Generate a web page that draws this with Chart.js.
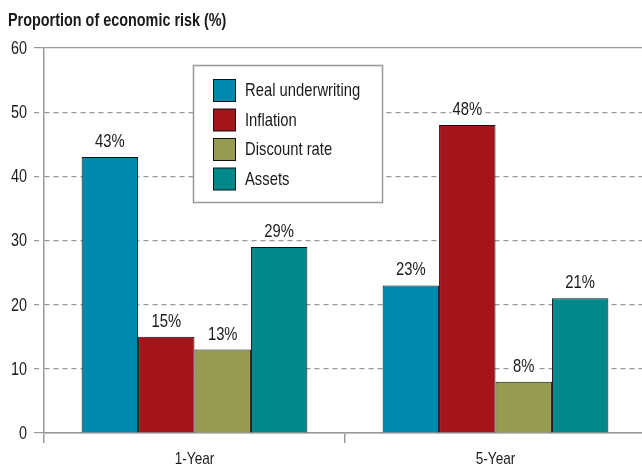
<!DOCTYPE html>
<html>
<head>
<meta charset="utf-8">
<script src="https://cdn.jsdelivr.net/npm/chart.js@4.4.0/dist/chart.umd.min.js"></script>
<style>
html,body{margin:0;padding:0;background:#fff;overflow:hidden;}
#wrap{position:relative;width:646px;height:468px;}
</style>
</head>
<body>
<div id="wrap"><canvas id="c" width="646" height="468"></canvas></div>
<script>
const categories = ['1-Year', '5-Year'];
const seriesNames = ['Real underwriting', 'Inflation', 'Discount rate', 'Assets'];
const realUnderwriting = [43, 23];
const inflation = [15, 48];
const discountRate = [13, 8];
const assets = [29, 21];
const yTicks = [0, 10, 20, 30, 40, 50, 60];
const titleText = 'Proportion of economic risk (%)';

const colors = ['#0088AF', '#A3151B', '#979B51', '#00888A'];
const FONT = "'Liberation Sans', Arial, sans-serif";
const SX = 0.8;

const values = [realUnderwriting, inflation, discountRate, assets];

function narrowText(ctx, txt, x, y, size, bold, align, baseline, color) {
  ctx.save();
  ctx.font = (bold ? 'bold ' : '') + size + 'px ' + FONT;
  ctx.textAlign = align;
  ctx.textBaseline = baseline;
  ctx.fillStyle = color || '#1a1a1a';
  ctx.translate(x, y);
  ctx.scale(SX, 1);
  ctx.fillText(txt, 0, 0);
  ctx.restore();
}
function narrowWidth(ctx, txt, size, bold) {
  ctx.save();
  ctx.font = (bold ? 'bold ' : '') + size + 'px ' + FONT;
  const w = ctx.measureText(txt).width * SX;
  ctx.restore();
  return w;
}

const overlay = {
  id: 'overlay',
  afterDatasetsDraw(chart) {
    const ctx = chart.ctx;
    chart.data.datasets.forEach((ds, i) => {
      const meta = chart.getDatasetMeta(i);
      meta.data.forEach((bar, j) => {
        const txt = ds.data[j] + '%';
        const w = narrowWidth(ctx, txt, 18.5, false);
        const by = bar.y - 10;
        ctx.fillStyle = '#fff';
        ctx.fillRect(bar.x - w / 2 - 1, by - 14, w + 2, 16);
        narrowText(ctx, txt, bar.x, by, 18.5, false, 'center', 'alphabetic');
      });
    });
    const bx = 193, byy = 65, bw = 189, bh = 137;
    ctx.save();
    ctx.fillStyle = '#fff';
    ctx.fillRect(bx, byy, bw, bh);
    ctx.strokeStyle = '#999';
    ctx.lineWidth = 1.5;
    ctx.strokeRect(bx + 0.5, byy + 0.5, bw, bh);
    chart.data.datasets.forEach((ds, i) => {
      const y = 79 + i * 29.5;
      ctx.fillStyle = ds.backgroundColor;
      ctx.fillRect(213.5, y + 0.5, 22, 22);
      ctx.strokeStyle = '#111';
      ctx.lineWidth = 1;
      ctx.strokeRect(213.5, y + 0.5, 22, 22);
      narrowText(ctx, ds.label, 245, y + 12, 18.5, false, 'left', 'middle');
    });
    ctx.restore();
  },
  afterDraw(chart) {
    const ctx = chart.ctx;
    narrowText(ctx, titleText, 8, 26, 18, true, 'left', 'alphabetic');
    const ys = chart.scales.y;
    ys.ticks.forEach((t, i) => {
      narrowText(ctx, String(t.value), 27, ys.getPixelForTick(i) + 1, 18, false, 'right', 'middle');
    });
    const xs = chart.scales.x;
    categories.forEach((c, i) => {
      narrowText(ctx, c, xs.getPixelForTick(i), 459, 17, false, 'center', 'middle');
    });
  }
};

new Chart(document.getElementById('c'), {
  type: 'bar',
  data: {
    labels: categories,
    datasets: seriesNames.map((n, i) => ({
      label: n,
      data: values[i],
      backgroundColor: colors[i],
      borderColor: '#111',
      borderWidth: 1,
      borderSkipped: 'bottom',
      categoryPercentage: 0.75,
      barPercentage: 1.0
    }))
  },
  options: {
    responsive: false,
    animation: false,
    layout: { padding: { top: 48, left: 0, right: 0, bottom: 0 } },
    plugins: { legend: { display: false }, title: { display: false }, tooltip: { enabled: false } },
    scales: {
      x: {
        grid: { drawOnChartArea: false, drawTicks: true, tickLength: 10, color: '#999', lineWidth: 1.5 },
        border: { display: true, color: '#999', width: 1.5 },
        ticks: { font: { family: FONT, size: 16 }, color: 'rgba(0,0,0,0)', padding: 4 },
        afterFit(s) { s.height = 35; }
      },
      y: {
        min: 0, max: 60,
        afterBuildTicks(s) { s.ticks = yTicks.map(v => ({ value: v })); },
        grid: {
          color: '#999',
          lineWidth: 1.2,
          tickLength: 10,
          tickBorderDash: (c) => (c.tick && (c.tick.value === 60 || c.tick.value === 0)) ? [] : [5, 4]
        },
        border: {
          display: true, color: '#999', width: 1.5,
          dash: (c) => (c.tick && (c.tick.value === 60 || c.tick.value === 0)) ? [] : [5, 4]
        },
        ticks: { font: { family: FONT, size: 17 }, color: 'rgba(0,0,0,0)', padding: 3 },
        afterFit(s) { s.width = 44; }
      }
    }
  },
  plugins: [overlay]
});
</script>
</body>
</html>
